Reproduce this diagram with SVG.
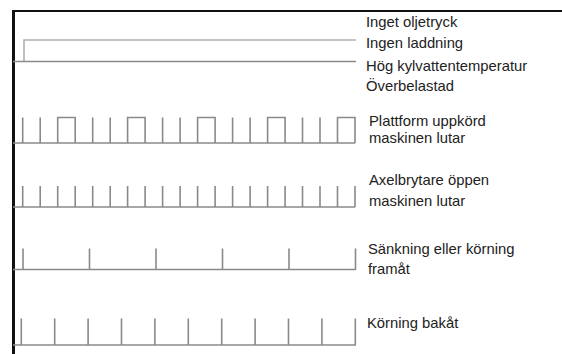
<svg xmlns="http://www.w3.org/2000/svg" width="562" height="354" viewBox="0 0 562 354">
<style>
.sig{fill:none;stroke:#8a8a8a;stroke-width:1.6}
.lt{fill:none;stroke:#b0b0b0;stroke-width:1.6}
.frame{fill:none;stroke:#111;}
text{font-family:"Liberation Sans",Arial,sans-serif;font-size:14.8px;fill:#222}
</style>
<rect width="562" height="354" fill="#fff"/>
<g id="frame">
<line class="frame" x1="12" y1="11" x2="562" y2="11" stroke-width="2"/>
<line class="frame" x1="13.5" y1="10" x2="13.5" y2="354" stroke-width="3"/>
</g>
<g id="row-status">
<path class="lt" d="M24 61.5 V40 H356"/>
<path class="sig" d="M13 61.5 H356"/>
<text x="366" y="27">Inget oljetryck</text>
<text x="366" y="48">Ingen laddning</text>
<text x="366" y="70.5">Hög kylvattentemperatur</text>
<text x="366" y="91">Överbelastad</text>
</g>
<g id="row-plattform">
<path class="sig" d="M13 143 H355 M22.7 143 V117.5 M40.2 143 V117.5 M57.7 143 V117.5 H75.2 V143 M92.7 143 V117.5 M110.2 143 V117.5 M127.6 143 V117.5 H145.1 V143 M162.6 143 V117.5 M180.1 143 V117.5 M197.6 143 V117.5 H215.1 V143 M232.6 143 V117.5 M250.1 143 V117.5 M267.6 143 V117.5 H285.1 V143 M302.5 143 V117.5 M320 143 V117.5 M337.5 143 V117.5 H355 V143"/>
<text x="369" y="126">Plattform uppkörd</text>
<text x="369" y="143">maskinen lutar</text>
</g>
<g id="row-axelbrytare">
<path class="sig" d="M13 207 H355 M22.7 207 V186 M40.2 207 V186 M57.7 207 V186 M75.2 207 V186 M92.7 207 V186 M110.2 207 V186 M127.6 207 V186 M145.1 207 V186 M162.6 207 V186 M180.1 207 V186 M197.6 207 V186 M215.1 207 V186 M232.6 207 V186 M250.1 207 V186 M267.6 207 V186 M285.1 207 V186 M302.5 207 V186 M320 207 V186 M337.5 207 V186 M355 207 V186"/>
<text x="369" y="185">Axelbrytare öppen</text>
<text x="369" y="206">maskinen lutar</text>
</g>
<g id="row-sankning">
<path class="sig" d="M13 269.5 H356 M23 269.5 V248.5 M89.5 269.5 V248.5 M156 269.5 V248.5 M222.5 269.5 V248.5 M289 269.5 V248.5 M355.5 269.5 V248.5"/>
<text x="368" y="253.5">Sänkning eller körning</text>
<text x="368" y="273.5">framåt</text>
</g>
<g id="row-bakat">
<path class="sig" d="M13 345 H356 M21.3 345 V318.5 M54.7 345 V318.5 M88.1 345 V318.5 M121.5 345 V318.5 M154.9 345 V318.5 M188.3 345 V318.5 M221.7 345 V318.5 M255.1 345 V318.5 M288.5 345 V318.5 M321.9 345 V318.5 M355.3 345 V318.5"/>
<text x="367" y="327.5">Körning bakåt</text>
</g>
</svg>
